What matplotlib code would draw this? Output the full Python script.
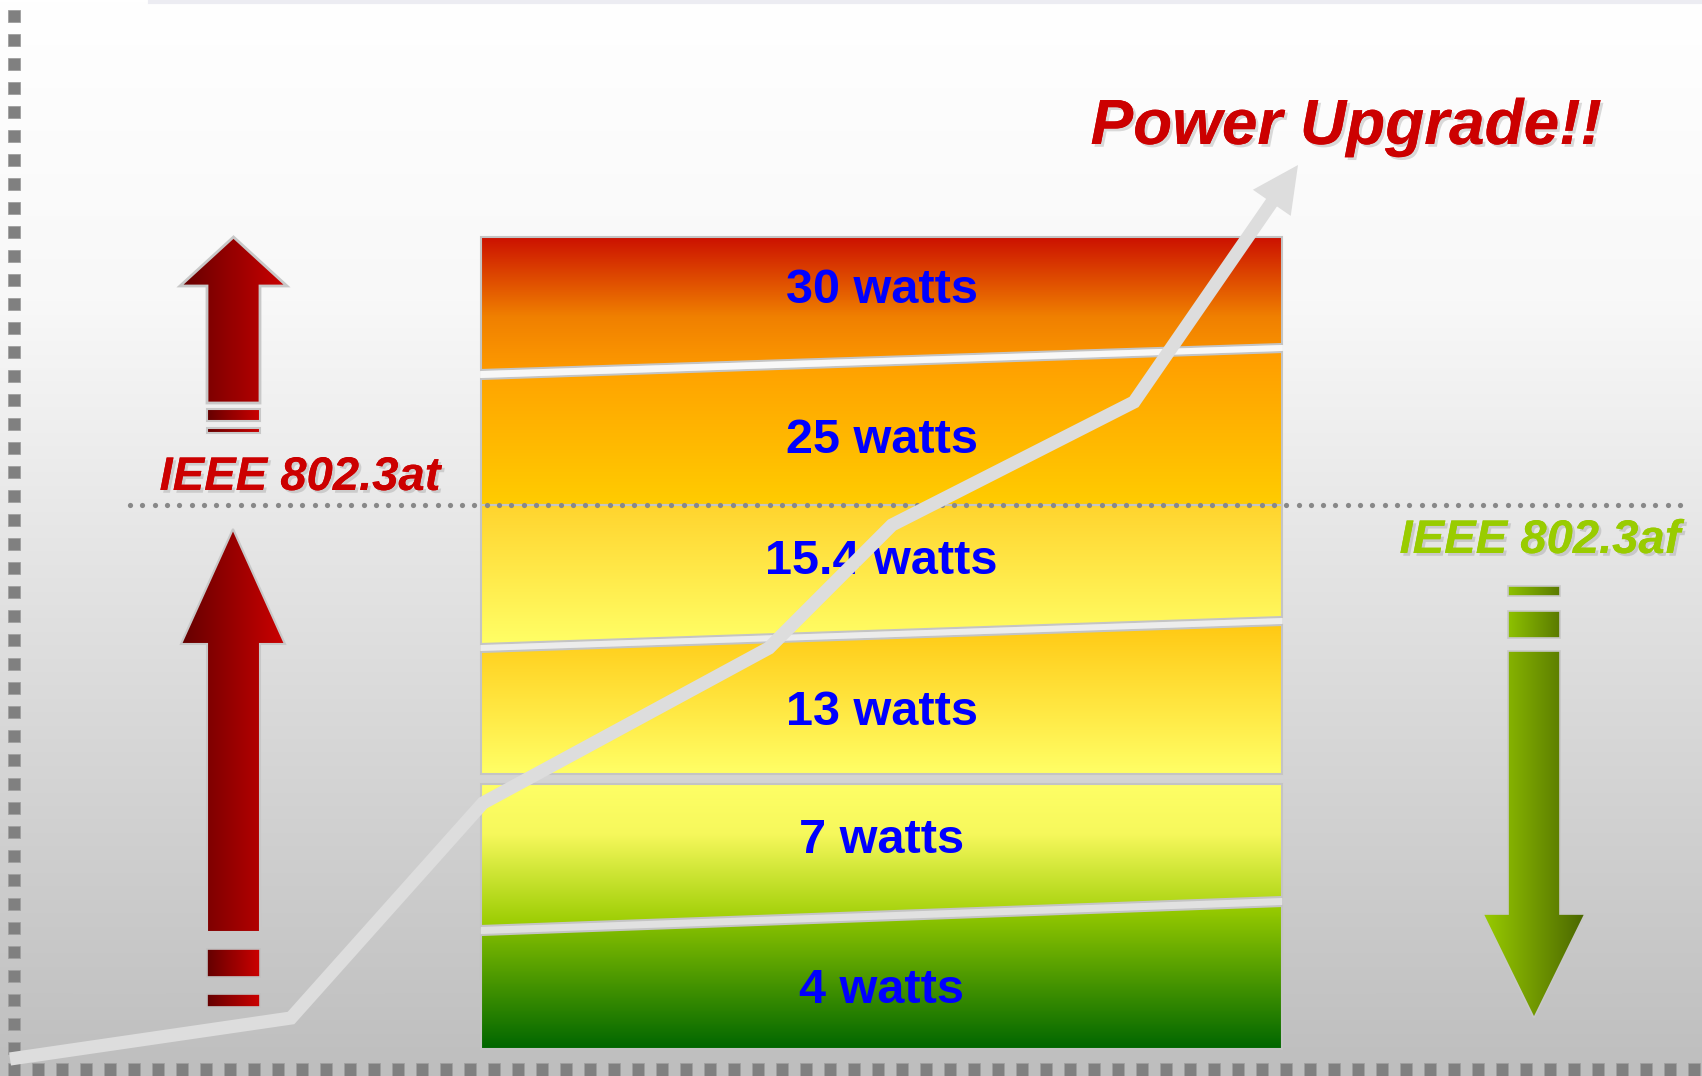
import numpy as np
import matplotlib
matplotlib.use("Agg")
import matplotlib.pyplot as plt
import matplotlib.colors as mcolors
from matplotlib.patches import Polygon, Rectangle
import matplotlib.patheffects as pe

# ---------------- data ----------------
band_labels = ["30 watts", "25 watts", "15.4 watts", "13 watts", "7 watts", "4 watts"]
band_colors = [
    [(0.0, "#cc1100"), (0.6, "#f08000"), (1.0, "#fd9a00")],
    [(0.0, "#ff9d00"), (1.0, "#ffcc00")],
    [(0.0, "#ffd42e"), (1.0, "#ffff66")],
    [(0.0, "#ffc914"), (1.0, "#ffff66")],
    [(0.0, "#ffff66"), (0.35, "#f6f85c"), (1.0, "#99cc00")],
    [(0.0, "#99cc00"), (1.0, "#006600")],
]
title_text = "Power Upgrade!!"
std_at = "IEEE 802.3at"
std_af = "IEEE 802.3af"

# ---------------- layout (pixel space) ----------------
W, H = 1702, 1076
BL, BR = 481, 1282
# (top_left, top_right, bottom_left, bottom_right) for each band
band_geom = [
    (237, 237, 370, 344),
    (379, 352, 505, 505),
    (505, 505, 644, 617),
    (652, 625, 774, 774),
    (784, 784, 926, 897),
    (935, 906, 1049, 1049),
]
label_base = [303, 453, 574, 725, 853, 1003]
path_x = [10, 291, 483, 769, 892, 1134, 1272]
path_y = [1059, 1018, 803, 648, 525, 402, 202]
tip = (1298, 165)

fig = plt.figure(figsize=(W / 100, H / 100), dpi=100)
ax = fig.add_axes([0, 0, 1, 1])


def grad_array(stops, n=256):
    t = np.linspace(0, 1, n)
    pos = [p for p, _ in stops]
    cols = np.array([mcolors.to_rgb(c) for _, c in stops])
    return np.stack([np.interp(t, pos, cols[:, k]) for k in range(3)], axis=-1)


def fill_grad(pts, stops, vertical=True, z=2, edge=None, lw=1.5):
    pts = np.asarray(pts, float)
    x0, x1 = pts[:, 0].min(), pts[:, 0].max()
    y0, y1 = pts[:, 1].min(), pts[:, 1].max()
    g = grad_array(stops)
    arr = g[:, None, :] if vertical else g[None, :, :]
    im = ax.imshow(arr, extent=[x0, x1, y1, y0], aspect="auto", origin="upper",
                   interpolation="bilinear", zorder=z)
    clip = Polygon(pts, closed=True, facecolor="none", edgecolor="none")
    ax.add_patch(clip)
    im.set_clip_path(clip)
    if edge:
        ax.add_patch(Polygon(pts, closed=True, facecolor="none", edgecolor=edge,
                             lw=lw, zorder=z + 0.1, joinstyle="miter"))


# background
bg = [(0.0, "#ffffff"), (0.28, "#f8f8f8"), (0.5, "#e6e6e6"), (1.0, "#bebebe")]
ax.imshow(grad_array(bg)[:, None, :], extent=[0, W, H, 0], aspect="auto",
          origin="upper", interpolation="bilinear", zorder=0)
ax.plot([150, W], [1.5, 1.5], color="#ececf2", lw=3, zorder=0.5)

# dashed squares border
for y in np.arange(10, 1050, 24):
    ax.add_patch(Rectangle((8, y), 12, 12, facecolor="#808080", edgecolor="#a0a0a0", lw=0.6, zorder=1))
for x in np.arange(8, W, 24):
    ax.add_patch(Rectangle((x, 1063), 12, 13, facecolor="#808080", edgecolor="#a0a0a0", lw=0.6, zorder=1))

# bands
for (tl, tr, bl, br), stops in zip(band_geom, band_colors):
    pts = [(BL, tl), (BR, tr), (BR, br), (BL, bl)]
    fill_grad(pts, stops, vertical=True, z=2, edge="#c4c4c4", lw=1.5)

# light separators (sloped gaps)
for i in [0, 2, 4]:
    a = band_geom[i]
    b = band_geom[i + 1]
    ax.add_patch(Polygon([(BL, a[2] + 1), (BR, a[3] + 1), (BR, b[1] - 1), (BL, b[0] - 1)],
                         closed=True, facecolor="white", edgecolor="none", alpha=0.45, zorder=2.5))

# band labels
for lab, yb in zip(band_labels, label_base):
    ax.text((BL + BR) / 2, yb, lab, ha="center", va="baseline", fontsize=35,
            fontweight="bold", color="#0000ff", family=["Liberation Sans", "DejaVu Sans"], zorder=3)

# dotted line
dx = np.arange(130, 1686, 12.3)
ax.scatter(dx, np.full_like(dx, 505), s=14, color="#888888", linewidths=0, zorder=4)

# red arrows
red = [(0.0, "#640000"), (1.0, "#cc0000")]
up1 = [(207, 403), (207, 286), (180, 286), (233.5, 237), (287, 286), (260, 286), (260, 403)]
fill_grad(up1, red, vertical=False, z=3, edge="#c8c8c8", lw=2)
for y0, y1 in [(409, 421), (428, 433)]:
    fill_grad([(207, y0), (260, y0), (260, y1), (207, y1)], red, vertical=False, z=3, edge="#c8c8c8", lw=1.5)
up2 = [(207, 932), (207, 644), (181, 644), (233, 529), (285, 644), (260, 644), (260, 932)]
fill_grad(up2, red, vertical=False, z=3, edge="#c8c8c8", lw=1.5)
for y0, y1 in [(949, 977), (994, 1007)]:
    fill_grad([(207, y0), (260, y0), (260, y1), (207, y1)], red, vertical=False, z=3, edge="#c0c0c0", lw=1.2)

# green arrow
green = [(0.0, "#99cc00"), (1.0, "#4a6600")]
dn = [(1508, 651), (1560, 651), (1560, 914), (1585, 914), (1534, 1018), (1483, 914), (1508, 914)]
fill_grad(dn, green, vertical=False, z=3, edge="#c8c8c8", lw=1.2)
for y0, y1 in [(586, 596), (611, 638)]:
    fill_grad([(1508, y0), (1560, y0), (1560, y1), (1508, y1)],
              [(0.0, "#8ec200"), (1.0, "#5a7a00")], vertical=False, z=3, edge="#c8c8c8", lw=1.2)

# upgrade path line with arrowhead
ax.plot(path_x, path_y, color="#dddddd", lw=9.5, solid_joinstyle="miter",
        solid_capstyle="butt", zorder=5)
ux, uy = tip[0] - path_x[-2], tip[1] - path_y[-2]
L = np.hypot(ux, uy)
ux, uy = ux / L, uy / L
hl, hw = 46, 23
bx, by = tip[0] - hl * ux, tip[1] - hl * uy
px, py = -uy, ux
head = [tip, (bx + hw * px, by + hw * py), (bx - hw * px, by - hw * py)]
ax.add_patch(Polygon(head, closed=True, facecolor="#dddddd", edgecolor="none", zorder=5))

# titles
shadow = [pe.withSimplePatchShadow(offset=(2, -2), shadow_rgbFace="#888888", alpha=0.3), pe.Normal()]
ax.text(1346, 144, title_text, ha="center", va="baseline", fontsize=46, fontweight="bold",
        fontstyle="italic", color="#cc0000", family=["Liberation Sans", "DejaVu Sans"],
        path_effects=shadow, zorder=6)
ax.text(300, 490, std_at, ha="center", va="baseline", fontsize=34, fontweight="bold",
        fontstyle="italic", color="#cc0000", family=["Liberation Sans", "DejaVu Sans"],
        path_effects=shadow, zorder=6)
ax.text(1540, 553, std_af, ha="center", va="baseline", fontsize=34, fontweight="bold",
        fontstyle="italic", color="#99cc00", family=["Liberation Sans", "DejaVu Sans"],
        path_effects=shadow, zorder=6)

ax.set_xlim(0, W)
ax.set_ylim(H, 0)
ax.axis("off")
fig.savefig("out.png", dpi=100)
